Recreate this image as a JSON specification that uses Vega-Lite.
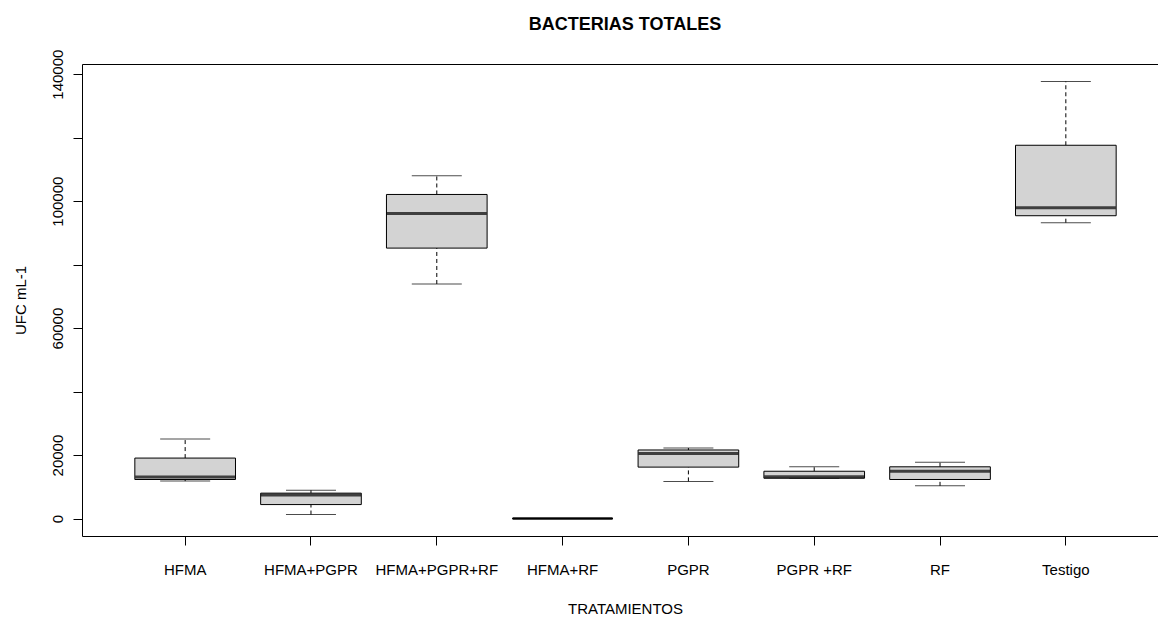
{
  "$schema": "https://vega.github.io/schema/vega-lite/v6.json",
  "width": 1076,
  "height": 472,
  "autosize": "none",
  "padding": {"left": 82, "top": 64, "right": 0, "bottom": 81},
  "background": "white",
  "title": {
    "text": "BACTERIAS TOTALES",
    "anchor": "middle",
    "frame": "group",
    "font": "Liberation Sans",
    "fontSize": 18,
    "fontWeight": "bold",
    "color": "#000000",
    "baseline": "alphabetic",
    "dx": 5,
    "offset": 1
  },
  "data": {
    "values": [
      {"tratamiento": "HFMA", "min": 11800, "q1": 12300, "mediana": 13050, "q3": 19050, "max": 25050},
      {"tratamiento": "HFMA+PGPR", "min": 1260, "q1": 4400, "mediana": 7400, "q3": 8000, "max": 8900},
      {"tratamiento": "HFMA+PGPR+RF", "min": 73900, "q1": 85200, "mediana": 96100, "q3": 102100, "max": 108000},
      {"tratamiento": "HFMA+RF", "min": 0, "q1": 0, "mediana": 0, "q3": 0, "max": 0},
      {"tratamiento": "PGPR", "min": 11700, "q1": 16200, "mediana": 20500, "q3": 21600, "max": 22200},
      {"tratamiento": "PGPR +RF", "min": 12700, "q1": 12700, "mediana": 13150, "q3": 14900, "max": 16300},
      {"tratamiento": "RF", "min": 10300, "q1": 12300, "mediana": 14900, "q3": 16300, "max": 17700},
      {"tratamiento": "Testigo", "min": 93200, "q1": 95400, "mediana": 97900, "q3": 117600, "max": 137700}
    ]
  },
  "encoding": {
    "x": {
      "field": "tratamiento",
      "type": "nominal",
      "sort": null,
      "scale": {"type": "band", "range": [0, 1087], "paddingInner": 0, "paddingOuter": 0.32},
      "axis": {
        "title": "TRATAMIENTOS",
        "titleFont": "Liberation Sans",
        "titleFontSize": 15,
        "titleFontWeight": "normal",
        "titleColor": "#000000",
        "titleBaseline": "alphabetic",
        "titleX": 543,
        "titleY": 77,
        "titleAnchor": "middle",
        "domain": false,
        "grid": false,
        "bandPosition": 0.5,
        "tickColor": "#000000",
        "tickSize": 9,
        "labelAngle": 0,
        "labelFont": "Liberation Sans",
        "labelFontSize": 15,
        "labelColor": "#000000",
        "labelBaseline": "alphabetic",
        "labelPadding": 29
      }
    }
  },
  "layer": [
    {
      "mark": {"type": "rule", "color": "#000000", "strokeWidth": 1, "strokeDash": [4, 3]},
      "encoding": {
        "y": {
          "field": "min", "type": "quantitative",
          "scale": {"domain": [-5500, 143200], "nice": false, "zero": false},
          "axis": {
            "title": "UFC mL-1",
            "titleFont": "Liberation Sans",
            "titleFontSize": 15,
            "titleFontWeight": "normal",
            "titleColor": "#000000",
            "titleAngle": -90,
            "titleAlign": "center",
            "titleBaseline": "alphabetic",
            "titleX": -57,
            "titleY": 236,
            "domain": false,
            "grid": false,
            "values": [0, 20000, 40000, 60000, 80000, 100000, 120000, 140000],
            "labelExpr": "datum.value == 0 || datum.value == 20000 || datum.value == 60000 || datum.value == 100000 || datum.value == 140000 ? format(datum.value, 'd') : ''",
            "tickColor": "#000000",
            "tickSize": 9,
            "labelAngle": -90,
            "labelAlign": "center",
            "labelBaseline": "alphabetic",
            "labelPadding": 11,
            "labelFont": "Liberation Sans",
            "labelFontSize": 15,
            "labelColor": "#000000"
          }
        },
        "y2": {"field": "q1"}
      }
    },
    {
      "mark": {"type": "rule", "color": "#000000", "strokeWidth": 1, "strokeDash": [4, 3]},
      "encoding": {
        "y": {
          "field": "q3", "type": "quantitative",
          "scale": {"domain": [-5500, 143200], "nice": false, "zero": false},
          "axis": {
            "title": "UFC mL-1",
            "titleFont": "Liberation Sans",
            "titleFontSize": 15,
            "titleFontWeight": "normal",
            "titleColor": "#000000",
            "titleAngle": -90,
            "titleAlign": "center",
            "titleBaseline": "alphabetic",
            "titleX": -57,
            "titleY": 236,
            "domain": false,
            "grid": false,
            "values": [0, 20000, 40000, 60000, 80000, 100000, 120000, 140000],
            "labelExpr": "datum.value == 0 || datum.value == 20000 || datum.value == 60000 || datum.value == 100000 || datum.value == 140000 ? format(datum.value, 'd') : ''",
            "tickColor": "#000000",
            "tickSize": 9,
            "labelAngle": -90,
            "labelAlign": "center",
            "labelBaseline": "alphabetic",
            "labelPadding": 11,
            "labelFont": "Liberation Sans",
            "labelFontSize": 15,
            "labelColor": "#000000"
          }
        },
        "y2": {"field": "max"}
      }
    },
    {
      "mark": {"type": "tick", "color": "#000000", "thickness": 1, "size": 50, "orient": "horizontal"},
      "encoding": {
        "y": {
          "field": "min", "type": "quantitative",
          "scale": {"domain": [-5500, 143200], "nice": false, "zero": false},
          "axis": {
            "title": "UFC mL-1",
            "titleFont": "Liberation Sans",
            "titleFontSize": 15,
            "titleFontWeight": "normal",
            "titleColor": "#000000",
            "titleAngle": -90,
            "titleAlign": "center",
            "titleBaseline": "alphabetic",
            "titleX": -57,
            "titleY": 236,
            "domain": false,
            "grid": false,
            "values": [0, 20000, 40000, 60000, 80000, 100000, 120000, 140000],
            "labelExpr": "datum.value == 0 || datum.value == 20000 || datum.value == 60000 || datum.value == 100000 || datum.value == 140000 ? format(datum.value, 'd') : ''",
            "tickColor": "#000000",
            "tickSize": 9,
            "labelAngle": -90,
            "labelAlign": "center",
            "labelBaseline": "alphabetic",
            "labelPadding": 11,
            "labelFont": "Liberation Sans",
            "labelFontSize": 15,
            "labelColor": "#000000"
          }
        }
      }
    },
    {
      "mark": {"type": "tick", "color": "#000000", "thickness": 1, "size": 50, "orient": "horizontal"},
      "encoding": {
        "y": {
          "field": "max", "type": "quantitative",
          "scale": {"domain": [-5500, 143200], "nice": false, "zero": false},
          "axis": {
            "title": "UFC mL-1",
            "titleFont": "Liberation Sans",
            "titleFontSize": 15,
            "titleFontWeight": "normal",
            "titleColor": "#000000",
            "titleAngle": -90,
            "titleAlign": "center",
            "titleBaseline": "alphabetic",
            "titleX": -57,
            "titleY": 236,
            "domain": false,
            "grid": false,
            "values": [0, 20000, 40000, 60000, 80000, 100000, 120000, 140000],
            "labelExpr": "datum.value == 0 || datum.value == 20000 || datum.value == 60000 || datum.value == 100000 || datum.value == 140000 ? format(datum.value, 'd') : ''",
            "tickColor": "#000000",
            "tickSize": 9,
            "labelAngle": -90,
            "labelAlign": "center",
            "labelBaseline": "alphabetic",
            "labelPadding": 11,
            "labelFont": "Liberation Sans",
            "labelFontSize": 15,
            "labelColor": "#000000"
          }
        }
      }
    },
    {
      "mark": {"type": "bar", "fill": "#D3D3D3", "stroke": "#000000", "strokeWidth": 1, "width": {"band": 0.8}},
      "encoding": {
        "y": {
          "field": "q1", "type": "quantitative",
          "scale": {"domain": [-5500, 143200], "nice": false, "zero": false},
          "axis": {
            "title": "UFC mL-1",
            "titleFont": "Liberation Sans",
            "titleFontSize": 15,
            "titleFontWeight": "normal",
            "titleColor": "#000000",
            "titleAngle": -90,
            "titleAlign": "center",
            "titleBaseline": "alphabetic",
            "titleX": -57,
            "titleY": 236,
            "domain": false,
            "grid": false,
            "values": [0, 20000, 40000, 60000, 80000, 100000, 120000, 140000],
            "labelExpr": "datum.value == 0 || datum.value == 20000 || datum.value == 60000 || datum.value == 100000 || datum.value == 140000 ? format(datum.value, 'd') : ''",
            "tickColor": "#000000",
            "tickSize": 9,
            "labelAngle": -90,
            "labelAlign": "center",
            "labelBaseline": "alphabetic",
            "labelPadding": 11,
            "labelFont": "Liberation Sans",
            "labelFontSize": 15,
            "labelColor": "#000000"
          }
        },
        "y2": {"field": "q3"}
      }
    },
    {
      "mark": {"type": "tick", "color": "#000000", "thickness": 3, "size": 100, "orient": "horizontal"},
      "encoding": {
        "y": {
          "field": "mediana", "type": "quantitative",
          "scale": {"domain": [-5500, 143200], "nice": false, "zero": false},
          "axis": {
            "title": "UFC mL-1",
            "titleFont": "Liberation Sans",
            "titleFontSize": 15,
            "titleFontWeight": "normal",
            "titleColor": "#000000",
            "titleAngle": -90,
            "titleAlign": "center",
            "titleBaseline": "alphabetic",
            "titleX": -57,
            "titleY": 236,
            "domain": false,
            "grid": false,
            "values": [0, 20000, 40000, 60000, 80000, 100000, 120000, 140000],
            "labelExpr": "datum.value == 0 || datum.value == 20000 || datum.value == 60000 || datum.value == 100000 || datum.value == 140000 ? format(datum.value, 'd') : ''",
            "tickColor": "#000000",
            "tickSize": 9,
            "labelAngle": -90,
            "labelAlign": "center",
            "labelBaseline": "alphabetic",
            "labelPadding": 11,
            "labelFont": "Liberation Sans",
            "labelFontSize": 15,
            "labelColor": "#000000"
          }
        }
      }
    }
  ],
  "config": {
    "view": {"stroke": "#000000", "strokeWidth": 1},
    "font": "Liberation Sans"
  }
}
